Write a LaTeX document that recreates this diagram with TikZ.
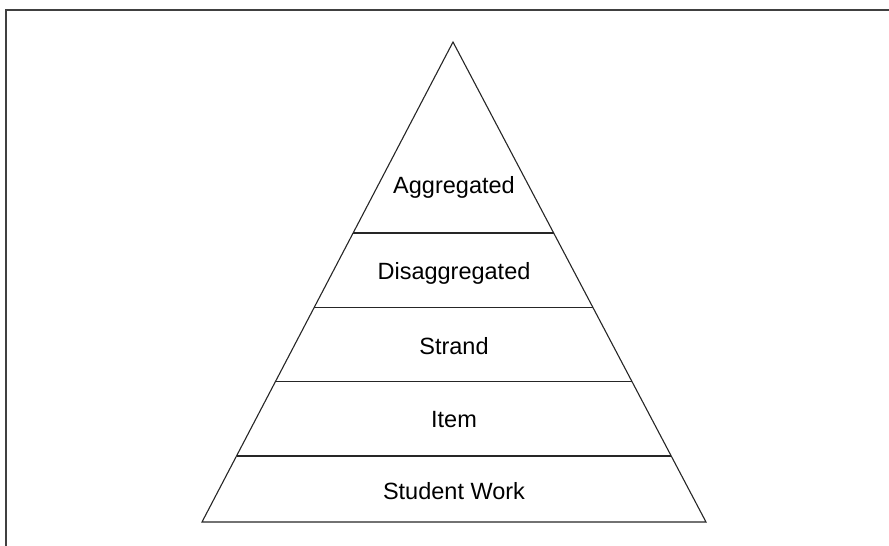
\documentclass[tikz,border=0pt]{standalone}
\usepackage{fontspec}
\setmainfont{Liberation Sans}
\usetikzlibrary{calc}
\tikzset{
  layer/.style={font=\fontsize{23.5}{28}\selectfont, inner sep=0pt, anchor=center},
  frame/.style={line width=2pt, black!75},
  edge/.style={line width=1.1pt, black!85}
}
\begin{document}
\begin{tikzpicture}[x=1pt,y=-1pt]
\useasboundingbox (0,0) rectangle (889,546);
% Outer frame (only top and left edges show)
\draw[frame] (5.5,546) -- (5.5,9.5) -- (889,9.5);

% Pyramid outline
\coordinate (apex) at (453,42);
\coordinate (bl) at (202,522);
\coordinate (br) at (706,522);
\draw[edge, line join=miter] (apex) -- (bl) -- (br) -- cycle;

% Dividing lines between the layers
\foreach \t in {0.398,0.554,0.708,0.8625} {
    \draw[edge] ($(apex)!\t!(bl)$) -- ($(apex)!\t!(br)$);
}

% Layer labels
\node[layer] (agg) at (454,187) {Aggregated};
\node[layer] (disagg) at (454,273) {Disaggregated};
\node[layer] (strand) at (454,346) {Strand};
\node[layer] (item) at (454,420) {Item};
\node[layer] (work) at (454,491) {Student Work};
\end{tikzpicture}
\end{document}
